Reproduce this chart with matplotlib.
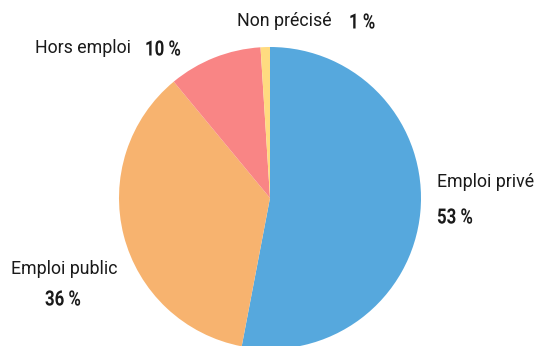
import matplotlib.pyplot as plt
from matplotlib.font_manager import FontProperties
from matplotlib.textpath import TextPath
from matplotlib.patches import PathPatch
from matplotlib.transforms import Affine2D

labels = ["Emploi privé", "Emploi public", "Hors emploi", "Non précisé"]
shares = [53, 36, 10, 1]
colors = ["#56A8DD", "#F7B36F", "#F98585", "#FFDB80"]

# text anchors in pixel coords (label, percent), y measured from the top
label_pos = [(437, 182), (11, 269), (35, 48), (237, 21)]
pct_pos = [(437, 216), (45, 298), (145, 48), (349, 21)]

W, H = 536, 346
fig = plt.figure(figsize=(W / 100, H / 100), dpi=100)
ax = fig.add_axes([0, 0, 1, 1])

ax.pie(shares, colors=colors, startangle=90, counterclock=False,
       center=(270, H - 198), radius=151,
       wedgeprops=dict(linewidth=0))

ax.set_xlim(0, W)
ax.set_ylim(0, H)
ax.set_aspect("equal")
ax.axis("off")

# condensed bold figures: squeeze a bold outline horizontally
pct_font = FontProperties(family="Roboto", weight="bold")
pct_size = 21
squeeze = 0.8

for name, val, (lx, ly), (px, py) in zip(labels, shares, label_pos, pct_pos):
    ax.text(lx, H - ly, name, fontsize=12.8, family="Roboto",
            color="#1a1a1a", ha="left", va="center")
    tp = TextPath((0, 0), f"{val} %", size=pct_size, prop=pct_font)
    tr = Affine2D().scale(squeeze, 1).translate(px, H - py - 7.5) + ax.transData
    ax.add_patch(PathPatch(tp, transform=tr, facecolor="#1a1a1a", edgecolor="none"))

fig.savefig("out.png", dpi=100)
